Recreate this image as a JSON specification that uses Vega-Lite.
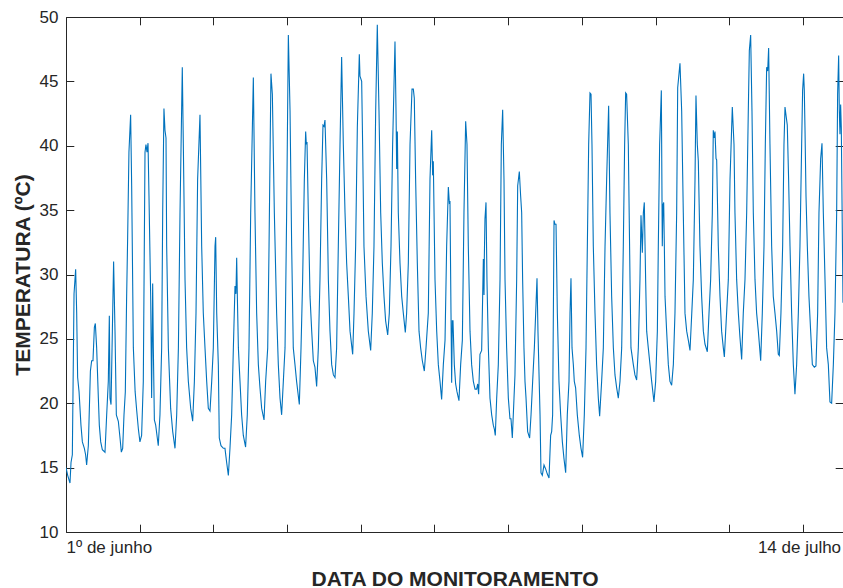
{
  "$schema": "https://vega.github.io/schema/vega-lite/v6.json",
  "width": 777,
  "height": 515,
  "autosize": "none",
  "padding": {"left": 66, "top": 17, "right": 0, "bottom": 56},
  "background": "white",
  "config": {
    "font": "Liberation Sans",
    "view": {"stroke": null},
    "axis": {
      "grid": false,
      "domainColor": "#262626",
      "domainWidth": 1,
      "tickColor": "#262626",
      "tickWidth": 1,
      "tickSize": -7.8,
      "labelColor": "#262626",
      "labelFont": "Liberation Sans",
      "labelFontSize": 17,
      "titleColor": "#262626",
      "titleFont": "Liberation Sans",
      "titleFontSize": 21,
      "titleFontWeight": "bold"
    }
  },
  "data": {
    "values": [
      {"hora":0,"temperatura":15.0},{"hora":2.3,"temperatura":14.4},{"hora":5.4,"temperatura":13.8},{"hora":6.8,"temperatura":15.4},{"hora":8.6,"temperatura":16.0},{"hora":10.9,"temperatura":28.5},{"hora":13.1,"temperatura":30.4},{"hora":14.5,"temperatura":27.0},{"hora":15.8,"temperatura":22.0},{"hora":17.7,"temperatura":20.9},{"hora":20.3,"temperatura":18.3},{"hora":22.2,"temperatura":17.0},{"hora":24.9,"temperatura":16.5},{"hora":26.6,"temperatura":16.0},{"hora":28.0,"temperatura":15.2},{"hora":30.3,"temperatura":16.7},{"hora":33.1,"temperatura":22.5},{"hora":34.8,"temperatura":23.3},{"hora":36.6,"temperatura":23.3},{"hora":38.5,"temperatura":25.9},{"hora":39.8,"temperatura":26.2},{"hora":41.6,"temperatura":24.3},{"hora":43.9,"temperatura":20.4},{"hora":45.2,"temperatura":18.3},{"hora":47.1,"temperatura":17.0},{"hora":49.3,"temperatura":16.4},{"hora":52.9,"temperatura":16.2},{"hora":55.2,"temperatura":19.1},{"hora":57.4,"temperatura":21.7},{"hora":58.8,"temperatura":26.8},{"hora":59.7,"temperatura":20.4},{"hora":61.1,"temperatura":19.9},{"hora":62.9,"temperatura":25.6},{"hora":64.6,"temperatura":31.0},{"hora":66.5,"temperatura":25.6},{"hora":68.3,"temperatura":19.1},{"hora":71.0,"temperatura":18.6},{"hora":73.3,"temperatura":17.3},{"hora":75.1,"temperatura":16.2},{"hora":76.9,"temperatura":16.5},{"hora":78.7,"temperatura":19.1},{"hora":80.5,"temperatura":20.9},{"hora":82.2,"temperatura":28.0},{"hora":83.6,"temperatura":32.7},{"hora":85.4,"temperatura":39.5},{"hora":87.7,"temperatura":42.4},{"hora":89.1,"temperatura":36.9},{"hora":91.4,"temperatura":24.3},{"hora":93.8,"temperatura":20.9},{"hora":96.0,"temperatura":19.4},{"hora":98.2,"temperatura":18.0},{"hora":100.3,"temperatura":17.0},{"hora":102.6,"temperatura":17.5},{"hora":104.9,"temperatura":21.7},{"hora":107.2,"temperatura":39.5},{"hora":108.5,"temperatura":40.1},{"hora":109.9,"temperatura":39.5},{"hora":111.3,"temperatura":40.2},{"hora":112.6,"temperatura":36.1},{"hora":114.9,"temperatura":28.3},{"hora":116.2,"temperatura":20.4},{"hora":117.6,"temperatura":29.3},{"hora":118.5,"temperatura":24.3},{"hora":119.9,"temperatura":18.7},{"hora":121.7,"temperatura":18.3},
      {"hora":125.2,"temperatura":16.7},{"hora":127.5,"temperatura":19.1},{"hora":129.8,"temperatura":24.3},{"hora":131.2,"temperatura":34.8},{"hora":132.9,"temperatura":42.9},{"hora":134.3,"temperatura":41.2},{"hora":135.7,"temperatura":40.6},{"hora":136.6,"temperatura":32.2},{"hora":138.9,"temperatura":24.3},{"hora":142.0,"temperatura":19.6},{"hora":144.8,"temperatura":17.8},{"hora":147.9,"temperatura":16.5},{"hora":150.2,"temperatura":19.1},{"hora":152.5,"temperatura":24.3},{"hora":154.7,"temperatura":34.8},{"hora":157.8,"temperatura":46.1},{"hora":159.2,"temperatura":40.1},{"hora":161.5,"temperatura":29.6},{"hora":163.7,"temperatura":24.3},{"hora":166.0,"temperatura":21.7},{"hora":169.2,"temperatura":19.6},{"hora":171.9,"temperatura":18.6},{"hora":174.2,"temperatura":21.7},{"hora":176.4,"temperatura":27.0},{"hora":178.6,"temperatura":37.4},{"hora":181.8,"temperatura":42.4},{"hora":184.1,"temperatura":32.2},{"hora":186.3,"temperatura":27.0},{"hora":188.6,"temperatura":24.3},{"hora":190.9,"temperatura":21.7},{"hora":193.1,"temperatura":19.6},{"hora":195.4,"temperatura":19.4},{"hora":197.7,"temperatura":21.7},{"hora":199.9,"temperatura":24.3},{"hora":202.2,"temperatura":32.2},{"hora":203.1,"temperatura":32.9},{"hora":204.5,"temperatura":27.0},{"hora":206.7,"temperatura":23.0},{"hora":208.0,"temperatura":17.3},{"hora":210.3,"temperatura":16.7},{"hora":213.5,"temperatura":16.5},{"hora":215.7,"temperatura":16.5},{"hora":218.0,"temperatura":15.4},{"hora":220.3,"temperatura":14.4},{"hora":222.5,"temperatura":16.5},{"hora":224.8,"temperatura":19.1},{"hora":227.1,"temperatura":24.3},{"hora":229.3,"temperatura":29.1},{"hora":230.6,"temperatura":28.5},{"hora":231.6,"temperatura":31.3},{"hora":232.5,"temperatura":28.3},{"hora":233.9,"temperatura":24.3},{"hora":236.1,"temperatura":21.7},{"hora":238.3,"temperatura":19.1},{"hora":240.6,"temperatura":17.5},{"hora":243.7,"temperatura":16.6},{"hora":246.0,"temperatura":19.1},{"hora":248.3,"temperatura":24.3},{"hora":250.6,"temperatura":34.8},
      {"hora":254.2,"temperatura":45.3},{"hora":256.4,"temperatura":34.8},{"hora":258.7,"temperatura":27.0},{"hora":261.0,"temperatura":23.0},{"hora":263.2,"temperatura":21.2},{"hora":265.5,"temperatura":19.6},{"hora":268.7,"temperatura":18.7},{"hora":270.9,"temperatura":21.7},{"hora":273.7,"temperatura":24.3},{"hora":275.5,"temperatura":32.2},{"hora":278.1,"temperatura":45.6},{"hora":280.0,"temperatura":44.0},{"hora":282.7,"temperatura":34.8},{"hora":285.8,"temperatura":27.0},{"hora":288.1,"temperatura":23.0},{"hora":290.4,"temperatura":20.4},{"hora":292.6,"temperatura":19.1},{"hora":294.9,"temperatura":21.7},{"hora":297.2,"temperatura":24.3},{"hora":299.4,"temperatura":34.8},{"hora":301.7,"temperatura":48.6},{"hora":304.0,"temperatura":42.7},{"hora":306.2,"temperatura":32.2},{"hora":308.4,"temperatura":24.3},{"hora":310.7,"temperatura":23.0},{"hora":312.9,"temperatura":21.7},{"hora":316.6,"temperatura":19.9},{"hora":318.9,"temperatura":24.3},{"hora":321.1,"temperatura":29.6},{"hora":323.4,"temperatura":37.4},{"hora":325.2,"temperatura":41.1},{"hora":326.1,"temperatura":40.1},{"hora":327.0,"temperatura":40.3},{"hora":328.8,"temperatura":34.8},{"hora":331.1,"temperatura":28.3},{"hora":333.4,"temperatura":25.6},{"hora":335.6,"temperatura":23.3},{"hora":337.8,"temperatura":22.8},{"hora":340.1,"temperatura":21.3},{"hora":342.4,"temperatura":24.3},{"hora":344.6,"temperatura":29.6},{"hora":346.9,"temperatura":37.4},{"hora":348.7,"temperatura":41.6},{"hora":350.1,"temperatura":41.5},{"hora":351.4,"temperatura":42.0},{"hora":353.7,"temperatura":37.4},{"hora":356.0,"temperatura":29.6},{"hora":358.2,"temperatura":25.6},{"hora":360.5,"temperatura":23.0},{"hora":362.8,"temperatura":22.2},{"hora":365.0,"temperatura":22.0},{"hora":367.2,"temperatura":24.3},{"hora":369.5,"temperatura":32.2},{"hora":371.8,"temperatura":40.1},
      {"hora":374.0,"temperatura":46.9},{"hora":376.3,"temperatura":40.1},{"hora":378.6,"temperatura":34.8},{"hora":380.8,"temperatura":30.9},{"hora":383.1,"temperatura":28.3},{"hora":385.4,"temperatura":25.6},{"hora":389.0,"temperatura":23.8},{"hora":390.8,"temperatura":27.0},{"hora":393.0,"temperatura":32.2},{"hora":395.3,"temperatura":41.4},{"hora":398.0,"temperatura":47.1},{"hora":398.9,"temperatura":45.4},{"hora":401.2,"temperatura":45.0},{"hora":402.5,"temperatura":40.1},{"hora":404.3,"temperatura":32.2},{"hora":407.1,"temperatura":28.3},{"hora":410.2,"temperatura":25.6},{"hora":413.4,"temperatura":24.1},{"hora":415.6,"temperatura":27.0},{"hora":417.9,"temperatura":32.2},{"hora":420.2,"temperatura":42.7},{"hora":422.4,"temperatura":49.4},{"hora":424.7,"temperatura":42.7},{"hora":427.0,"temperatura":34.8},{"hora":429.2,"temperatura":30.9},{"hora":431.5,"temperatura":28.3},{"hora":433.7,"temperatura":26.4},{"hora":436.5,"temperatura":25.3},{"hora":438.7,"temperatura":27.0},{"hora":441.0,"temperatura":32.2},{"hora":443.2,"temperatura":40.1},{"hora":446.4,"temperatura":48.1},{"hora":447.8,"temperatura":42.7},{"hora":448.7,"temperatura":38.2},{"hora":449.6,"temperatura":41.1},{"hora":450.9,"temperatura":34.8},{"hora":453.2,"temperatura":30.9},{"hora":455.5,"temperatura":28.3},{"hora":457.7,"temperatura":27.0},{"hora":460.4,"temperatura":25.5},{"hora":462.2,"temperatura":27.0},{"hora":464.5,"temperatura":30.9},{"hora":466.8,"temperatura":40.1},{"hora":469.5,"temperatura":44.4},{"hora":471.3,"temperatura":44.4},{"hora":472.6,"temperatura":43.7},{"hora":474.4,"temperatura":37.4},{"hora":476.7,"temperatura":30.9},{"hora":479.0,"temperatura":25.6},{"hora":481.2,"temperatura":24.3},{"hora":483.5,"temperatura":23.3},{"hora":486.2,"temperatura":22.5},{"hora":488.5,"temperatura":24.3},{"hora":491.6,"temperatura":27.0},{"hora":493.9,"temperatura":37.4},{"hora":496.2,"temperatura":41.2},{"hora":497.5,"temperatura":37.7},{"hora":498.4,"temperatura":38.8},{"hora":500.7,"temperatura":29.6},{"hora":503.0,"temperatura":25.6},{"hora":505.2,"temperatura":23.0},{"hora":507.5,"temperatura":21.7},
      {"hora":509.7,"temperatura":20.3},{"hora":512.0,"temperatura":23.0},{"hora":514.3,"temperatura":24.9},{"hora":516.5,"temperatura":32.2},{"hora":518.8,"temperatura":36.8},{"hora":520.1,"temperatura":35.6},{"hora":521.0,"temperatura":35.7},{"hora":522.4,"temperatura":27.0},{"hora":523.3,"temperatura":21.6},{"hora":524.2,"temperatura":26.4},{"hora":525.1,"temperatura":26.4},{"hora":526.9,"temperatura":23.0},{"hora":528.7,"temperatura":21.5},{"hora":530.5,"temperatura":20.9},{"hora":533.2,"temperatura":20.2},{"hora":535.5,"temperatura":23.0},{"hora":537.8,"temperatura":24.9},{"hora":540.0,"temperatura":34.8},{"hora":542.3,"temperatura":41.9},{"hora":544.1,"temperatura":40.1},{"hora":545.9,"temperatura":32.2},{"hora":548.2,"temperatura":25.6},{"hora":550.4,"temperatura":23.0},{"hora":552.7,"temperatura":21.7},{"hora":555.0,"temperatura":21.1},{"hora":557.2,"temperatura":21.1},{"hora":558.6,"temperatura":21.5},{"hora":559.9,"temperatura":20.7},{"hora":561.7,"temperatura":23.8},{"hora":564.0,"temperatura":24.1},{"hora":566.3,"temperatura":31.2},{"hora":567.2,"temperatura":28.4},{"hora":567.6,"temperatura":31.2},{"hora":568.5,"temperatura":34.3},{"hora":569.9,"temperatura":35.6},{"hora":571.2,"temperatura":29.6},{"hora":573.1,"temperatura":24.3},{"hora":575.3,"temperatura":20.4},{"hora":577.6,"temperatura":19.1},{"hora":579.8,"temperatura":18.3},{"hora":581.2,"temperatura":18.0},{"hora":582.5,"temperatura":17.5},{"hora":584.4,"temperatura":20.4},{"hora":586.6,"temperatura":23.0},{"hora":588.9,"temperatura":29.6},{"hora":590.7,"temperatura":40.1},{"hora":592.5,"temperatura":42.8},{"hora":594.3,"temperatura":37.4},{"hora":595.7,"temperatura":29.6},{"hora":597.9,"temperatura":24.3},{"hora":600.2,"temperatura":20.4},{"hora":602.4,"temperatura":18.8},{"hora":603.8,"temperatura":18.8},{"hora":605.6,"temperatura":17.3},{"hora":607.9,"temperatura":20.4},{"hora":609.2,"temperatura":22.2},{"hora":611.5,"temperatura":29.6},{"hora":612.9,"temperatura":36.9},{"hora":615.1,"temperatura":38.0},{"hora":616.9,"temperatura":36.1},{"hora":618.3,"temperatura":34.8},{"hora":619.6,"temperatura":29.6},{"hora":621.4,"temperatura":24.3},{"hora":622.8,"temperatura":21.7},{"hora":624.2,"temperatura":20.4},{"hora":626.4,"temperatura":17.8},{"hora":629.1,"temperatura":17.3},{"hora":631.0,"temperatura":19.1},{"hora":633.2,"temperatura":21.7},{"hora":635.5,"temperatura":24.3},{"hora":637.3,"temperatura":27.0},
      {"hora":639.1,"temperatura":29.7},{"hora":640.4,"temperatura":25.6},{"hora":643.2,"temperatura":19.1},{"hora":644.5,"temperatura":14.6},{"hora":646.3,"temperatura":14.4},{"hora":648.6,"temperatura":15.2},{"hora":650.8,"temperatura":14.9},{"hora":653.1,"temperatura":14.5},{"hora":655.4,"temperatura":14.2},{"hora":657.6,"temperatura":17.5},{"hora":659.0,"temperatura":17.8},{"hora":660.3,"temperatura":19.1},{"hora":662.2,"temperatura":34.2},{"hora":663.5,"temperatura":33.9},{"hora":664.9,"temperatura":33.9},{"hora":666.7,"temperatura":27.0},{"hora":668.9,"temperatura":21.7},{"hora":671.2,"temperatura":19.1},{"hora":673.5,"temperatura":17.0},{"hora":675.7,"temperatura":15.7},{"hora":678.0,"temperatura":14.6},{"hora":680.2,"temperatura":19.1},{"hora":682.5,"temperatura":21.7},{"hora":683.9,"temperatura":27.0},{"hora":685.2,"temperatura":29.7},{"hora":686.6,"temperatura":24.3},{"hora":688.4,"temperatura":23.0},{"hora":689.7,"temperatura":21.7},{"hora":691.5,"temperatura":21.2},{"hora":693.8,"temperatura":19.1},{"hora":696.5,"temperatura":17.5},{"hora":698.8,"temperatura":16.5},{"hora":701.0,"temperatura":15.8},{"hora":703.3,"temperatura":19.1},{"hora":705.6,"temperatura":24.3},{"hora":707.4,"temperatura":32.2},{"hora":709.2,"temperatura":40.1},{"hora":711.0,"temperatura":44.1},{"hora":712.4,"temperatura":44.0},{"hora":713.7,"temperatura":40.1},{"hora":715.5,"temperatura":32.2},{"hora":717.8,"temperatura":27.0},{"hora":720.0,"temperatura":23.0},{"hora":722.3,"temperatura":20.4},{"hora":724.1,"temperatura":19.0},{"hora":726.8,"temperatura":21.7},{"hora":729.1,"temperatura":24.3},{"hora":731.4,"temperatura":32.2},{"hora":733.6,"temperatura":37.4},{"hora":736.3,"temperatura":43.1},{"hora":738.1,"temperatura":34.8},{"hora":740.4,"temperatura":28.3},{"hora":742.7,"temperatura":24.3},{"hora":744.9,"temperatura":22.2},{"hora":747.2,"temperatura":21.2},{"hora":749.4,"temperatura":20.4},{"hora":751.7,"temperatura":21.7},{"hora":754.0,"temperatura":24.3},{"hora":756.2,"temperatura":32.2},{"hora":758.0,"temperatura":40.1},
      {"hora":759.4,"temperatura":44.1},{"hora":760.7,"temperatura":44.0},{"hora":763.0,"temperatura":40.1},{"hora":765.3,"temperatura":29.6},{"hora":766.6,"temperatura":24.3},{"hora":769.8,"temperatura":23.0},{"hora":772.0,"temperatura":22.2},{"hora":774.3,"temperatura":21.8},{"hora":776.6,"temperatura":24.3},{"hora":778.8,"temperatura":29.6},{"hora":780.2,"temperatura":34.6},{"hora":782.0,"temperatura":31.7},{"hora":783.4,"temperatura":34.8},{"hora":784.7,"temperatura":35.6},{"hora":786.5,"temperatura":29.6},{"hora":787.9,"temperatura":25.6},{"hora":790.1,"temperatura":24.3},{"hora":792.4,"temperatura":23.0},{"hora":794.7,"temperatura":21.7},{"hora":797.8,"temperatura":20.1},{"hora":800.1,"temperatura":21.7},{"hora":802.4,"temperatura":25.6},{"hora":803.7,"temperatura":32.2},{"hora":805.5,"temperatura":40.1},{"hora":807.8,"temperatura":44.3},{"hora":809.1,"temperatura":32.2},{"hora":810.0,"temperatura":35.4},{"hora":811.0,"temperatura":35.6},{"hora":811.9,"temperatura":32.2},{"hora":812.8,"temperatura":28.3},{"hora":815.0,"temperatura":25.6},{"hora":817.3,"temperatura":23.0},{"hora":819.5,"temperatura":21.7},{"hora":821.8,"temperatura":21.4},{"hora":824.1,"temperatura":23.0},{"hora":826.3,"temperatura":27.0},{"hora":828.6,"temperatura":34.8},{"hora":830.0,"temperatura":44.5},{"hora":833.1,"temperatura":46.4},{"hora":835.4,"temperatura":42.7},{"hora":837.6,"temperatura":34.8},{"hora":839.9,"temperatura":27.0},{"hora":842.2,"temperatura":25.6},{"hora":844.4,"temperatura":24.9},{"hora":846.7,"temperatura":24.1},{"hora":849.1,"temperatura":27.0},{"hora":851.2,"temperatura":29.6},{"hora":853.5,"temperatura":37.4},{"hora":854.8,"temperatura":43.9},{"hora":856.6,"temperatura":40.1},{"hora":858.0,"temperatura":38.8},{"hora":860.2,"temperatura":32.2},{"hora":862.5,"temperatura":28.3},{"hora":864.8,"temperatura":25.6},{"hora":867.0,"temperatura":24.6},{"hora":870.2,"temperatura":24.0},{"hora":872.5,"temperatura":27.0},{"hora":874.7,"temperatura":29.6},{"hora":877.0,"temperatura":34.8},{"hora":878.3,"temperatura":41.2},{"hora":879.2,"temperatura":40.6},{"hora":880.6,"temperatura":41.1},{"hora":882.0,"temperatura":39.0},{"hora":882.9,"temperatura":38.9},{"hora":885.1,"temperatura":32.2},{"hora":887.4,"temperatura":28.3},{"hora":889.6,"temperatura":25.6},{"hora":891.9,"temperatura":24.3},{"hora":893.3,"temperatura":23.6},
      {"hora":895.1,"temperatura":25.6},{"hora":898.7,"temperatura":29.6},{"hora":901.0,"temperatura":37.4},{"hora":904.1,"temperatura":43.0},{"hora":906.4,"temperatura":40.1},{"hora":907.7,"temperatura":34.8},{"hora":910.0,"temperatura":29.6},{"hora":912.3,"temperatura":27.0},{"hora":914.5,"temperatura":25.1},{"hora":916.8,"temperatura":23.4},{"hora":919.0,"temperatura":27.0},{"hora":921.3,"temperatura":29.6},{"hora":923.6,"temperatura":34.8},{"hora":925.8,"temperatura":42.7},{"hora":927.2,"temperatura":47.4},{"hora":929.0,"temperatura":48.6},{"hora":930.8,"temperatura":42.7},{"hora":932.6,"temperatura":34.8},{"hora":934.9,"temperatura":29.6},{"hora":937.1,"temperatura":27.0},{"hora":939.4,"temperatura":25.6},{"hora":942.6,"temperatura":23.3},{"hora":944.8,"temperatura":27.0},{"hora":947.1,"temperatura":32.2},{"hora":948.9,"temperatura":40.1},{"hora":950.7,"temperatura":46.1},{"hora":952.1,"temperatura":45.8},{"hora":953.4,"temperatura":47.6},{"hora":955.2,"temperatura":40.1},{"hora":957.5,"temperatura":32.2},{"hora":959.7,"temperatura":28.3},{"hora":962.0,"temperatura":27.0},{"hora":964.3,"temperatura":25.6},{"hora":966.5,"temperatura":23.8},{"hora":967.9,"temperatura":23.7},{"hora":970.1,"temperatura":27.0},{"hora":972.4,"temperatura":32.2},{"hora":974.2,"temperatura":40.1},{"hora":975.6,"temperatura":43.0},{"hora":976.9,"temperatura":42.4},{"hora":978.7,"temperatura":41.6},{"hora":980.5,"temperatura":37.4},{"hora":982.4,"temperatura":32.2},{"hora":984.6,"temperatura":27.0},{"hora":986.9,"temperatura":23.0},{"hora":989.1,"temperatura":20.7},{"hora":991.4,"temperatura":23.0},{"hora":993.7,"temperatura":27.0},{"hora":995.9,"temperatura":32.2},{"hora":998.2,"temperatura":40.1},{"hora":999.5,"temperatura":44.3},{"hora":1000.9,"temperatura":45.6},{"hora":1001.8,"temperatura":44.3},{"hora":1002.7,"temperatura":41.4},{"hora":1004.1,"temperatura":36.1},{"hora":1005.9,"temperatura":32.2},{"hora":1008.1,"temperatura":28.3},{"hora":1010.4,"temperatura":25.6},{"hora":1012.7,"temperatura":23.0},{"hora":1015.4,"temperatura":22.8},{"hora":1017.6,"temperatura":22.9},{"hora":1019.9,"temperatura":27.0},{"hora":1021.7,"temperatura":34.8},{"hora":1024.0,"temperatura":39.0},{"hora":1025.8,"temperatura":40.2},{"hora":1027.6,"temperatura":34.8},{"hora":1029.9,"temperatura":29.6},{"hora":1032.1,"temperatura":24.3},{"hora":1034.4,"temperatura":23.0},{"hora":1036.6,"temperatura":20.1},{"hora":1038.9,"temperatura":20.0},{"hora":1041.2,"temperatura":23.0},{"hora":1043.4,"temperatura":27.0},{"hora":1045.7,"temperatura":34.8},{"hora":1047.0,"temperatura":44.0},{"hora":1048.4,"temperatura":47.0},{"hora":1049.3,"temperatura":42.7},{"hora":1050.2,"temperatura":40.9},{"hora":1051.1,"temperatura":43.2},{"hora":1052.0,"temperatura":41.4},{"hora":1054.3,"temperatura":27.8}
    ]
  },
  "layer": [
    {
      "mark": {"type": "line", "color": "#0072BD", "strokeWidth": 1.1, "clip": true},
      "encoding": {
        "x": {
          "field": "hora",
          "type": "quantitative",
          "scale": {"domain": [0, 1054.3], "nice": false, "zero": false},
          "axis": {
            "orient": "bottom",
            "values": [0, 100, 200, 300, 400, 500, 600, 700, 800, 900, 1000],
            "labelExpr": "datum.value == 0 ? '1º de junho' : (datum.value == 1000 ? '14 de julho' : '')",
            "labelFlush": true,
            "labelOverlap": false,
            "labelBound": false,
            "labelPadding": 15,
            "labelOffset": {"condition": {"test": "datum.value == 1000", "value": -4}, "value": 0},
            "title": "DATA DO MONITORAMENTO",
            "titleX": 388.5,
            "titleY": 53,
            "titleAlign": "center",
            "titleBaseline": "alphabetic"
          }
        },
        "y": {
          "field": "temperatura",
          "type": "quantitative",
          "scale": {"domain": [10, 50], "nice": false, "zero": false},
          "axis": {
            "orient": "left",
            "values": [10, 15, 20, 25, 30, 35, 40, 45, 50],
            "labelPadding": 15.8,
            "labelOverlap": false,
            "title": "TEMPERATURA (ºC)",
            "titleX": -37,
            "titleY": 257.5,
            "titleAngle": -90,
            "titleAlign": "center",
            "titleBaseline": "alphabetic"
          }
        }
      }
    },
    {
      "mark": {"type": "line", "strokeOpacity": 0},
      "encoding": {
        "x": {
          "field": "hora",
          "type": "quantitative",
          "scale": {"domain": [0, 1054.3], "nice": false, "zero": false},
          "axis": {
            "orient": "top",
            "values": [0, 100, 200, 300, 400, 500, 600, 700, 800, 900, 1000],
            "labels": false,
            "title": null
          }
        },
        "y": {
          "field": "temperatura",
          "type": "quantitative",
          "scale": {"domain": [10, 50], "nice": false, "zero": false},
          "axis": {
            "orient": "right",
            "values": [10, 15, 20, 25, 30, 35, 40, 45, 50],
            "labels": false,
            "title": null
          }
        }
      }
    }
  ],
  "resolve": {"axis": {"x": "independent", "y": "independent"}}
}
